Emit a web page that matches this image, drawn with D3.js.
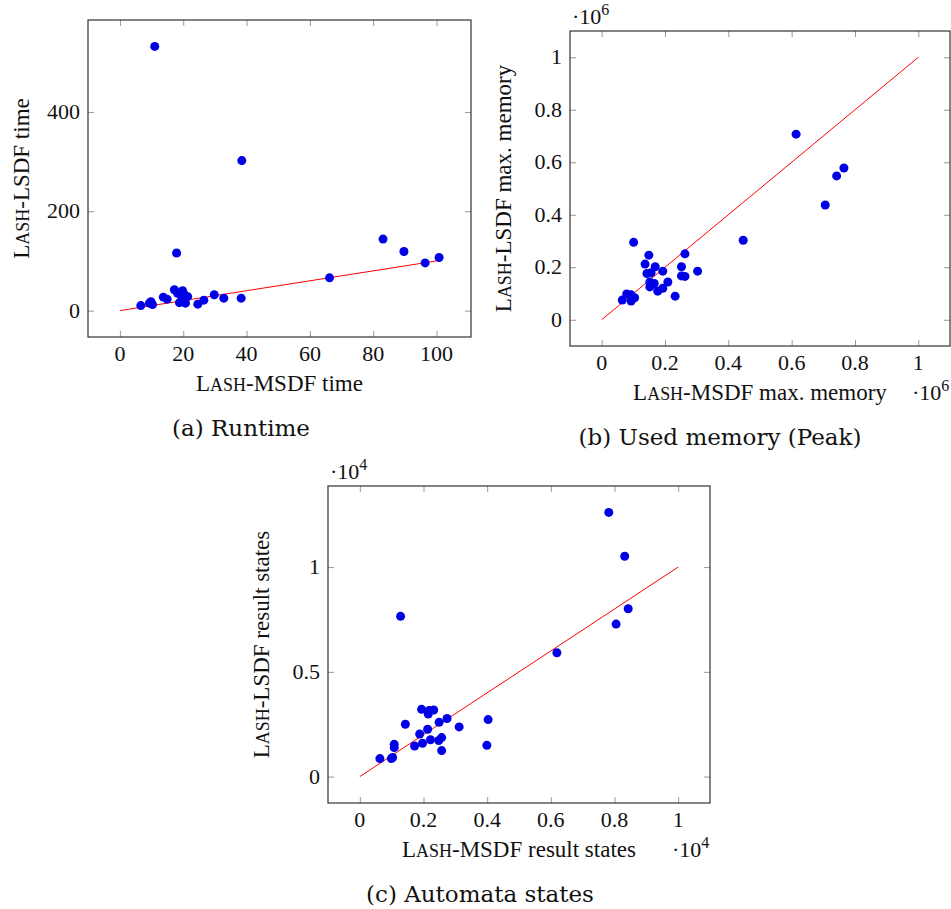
<!DOCTYPE html>
<html>
<head>
<meta charset="utf-8">
<script src="https://cdn.jsdelivr.net/npm/d3@7"></script>
<style>
  body { margin: 0; background: #fff; }
  svg { display: block; }
</style>
</head>
<body>
<div id="chart"></div>
<script>
// (a) runtime: [LASH-MSDF time, LASH-LSDF time]
var runtimePoints = [
    [11.0, 532], [38.5, 302], [17.9, 116], [83.1, 144], [89.7, 119], [96.4, 96],
    [100.8, 107], [66.2, 66], [38.3, 25], [32.8, 25], [29.8, 32], [26.5, 21],
    [24.6, 13], [21.4, 28], [20.7, 15], [19.8, 40], [17.2, 42], [18.2, 35],
    [18.8, 16], [19.6, 27], [20.0, 23], [20.3, 33], [14.9, 23], [13.7, 27],
    [9.8, 18], [10.3, 12], [9.3, 15], [6.6, 10]
];
// (b) peak memory: [LASH-MSDF, LASH-LSDF]
var memoryPoints = [
    [614000, 707000], [706000, 437000], [742000, 548000], [765000, 578000],
    [447000, 303000], [101000, 295000], [149000, 246000], [263000, 251000],
    [137000, 212000], [169000, 202000], [252000, 202000], [303000, 185000],
    [193000, 185000], [143000, 176000], [156000, 179000], [252000, 167000],
    [263000, 165000], [152000, 144000], [166000, 138000], [209000, 144000],
    [152000, 125000], [193000, 120000], [177000, 109000], [232000, 90000],
    [79000, 98000], [93000, 95000], [104000, 84000], [93000, 71000], [65000, 75000]
];
// (c) automata states: [LASH-MSDF, LASH-LSDF]
var statePoints = [
    [7820, 12610], [8320, 10520], [1280, 7650], [8430, 8010], [8050, 7280],
    [6190, 5910], [1940, 3210], [2180, 3160], [2320, 3180], [2150, 2990],
    [2740, 2770], [4030, 2720], [2490, 2590], [3120, 2370], [1430, 2500],
    [2130, 2260], [1880, 2030], [2220, 1760], [2570, 1860], [2480, 1720],
    [1970, 1590], [1720, 1460], [3990, 1490], [2570, 1240], [1080, 1540],
    [1080, 1380], [1030, 910], [990, 860], [630, 860]
];
var runtimeTicks = [0, 20, 40, 60, 80, 100];
var runtimeYTicks = [0, 200, 400];
var memoryTicks = [0, 200000, 400000, 600000, 800000, 1000000];
var stateXTicks = [0, 2000, 4000, 6000, 8000, 10000];
var stateYTicks = [0, 5000, 10000];

var W = 951, H = 909;
var svg = d3.select("#chart").append("svg")
    .attr("width", W)
    .attr("height", H);

var serif = "'Liberation Serif', 'DejaVu Serif', serif";

// writes "Lash" in small caps followed by the rest
function lashText(sel, rest, size) {
    sel.append("tspan").text("L");
    sel.append("tspan").style("font-size", (size * 0.78) + "px").text("ASH");
    sel.append("tspan").text(rest);
}

function expLabel(g, x, y, p) {
    var t = g.append("text")
        .attr("x", x).attr("y", y)
        .style("font-family", serif)
        .style("font-size", "22px")
        .attr("fill", "#111");
    t.append("tspan").text("\u00b710");
    t.append("tspan").attr("dy", -9).style("font-size", "16px").text(p);
}

// enlarge the data range by 10% on each side, like pgfplots does
function padded(lo, hi) {
    var d = (hi - lo) * 0.1;
    return [lo - d, hi + d];
}

function drawPanel(p) {
    var g = svg.append("g").attr("transform", "translate(" + p.left + "," + p.top + ")");
    var w = p.width, h = p.height;

    var xs = p.points.map(function (d) { return d[0]; }).concat([0, p.lineEnd]);
    var ys = p.points.map(function (d) { return d[1]; }).concat([0, p.lineEnd]);
    var x = d3.scaleLinear().domain(padded(d3.min(xs), d3.max(xs))).range([0, w]);
    var y = d3.scaleLinear().domain(padded(d3.min(ys), d3.max(ys))).range([h, 0]);

    // inner ticks on all four sides
    var tickStyle = function (a) {
        a.select(".domain").remove();
        a.selectAll(".tick line").attr("stroke", "#999").attr("stroke-width", 1);
    };
    g.append("g").attr("transform", "translate(0," + h + ")")
        .call(d3.axisBottom(x).tickValues(p.xTicks).tickSize(-6).tickFormat(""))
        .call(tickStyle);
    g.append("g")
        .call(d3.axisTop(x).tickValues(p.xTicks).tickSize(-6).tickFormat(""))
        .call(tickStyle);
    g.append("g")
        .call(d3.axisLeft(y).tickValues(p.yTicks).tickSize(-6).tickFormat(""))
        .call(tickStyle);
    g.append("g").attr("transform", "translate(" + w + ",0)")
        .call(d3.axisRight(y).tickValues(p.yTicks).tickSize(-6).tickFormat(""))
        .call(tickStyle);

    // tick labels
    g.selectAll(".xl").data(p.xTicks).enter().append("text")
        .attr("x", function (d) { return x(d); })
        .attr("y", h + 24)
        .attr("text-anchor", "middle")
        .style("font-family", serif)
        .style("font-size", "22px")
        .attr("fill", "#111")
        .text(p.xFormat);
    g.selectAll(".yl").data(p.yTicks).enter().append("text")
        .attr("x", -8)
        .attr("y", function (d) { return y(d) + 7; })
        .attr("text-anchor", "end")
        .style("font-family", serif)
        .style("font-size", "22px")
        .attr("fill", "#111")
        .text(p.yFormat);

    // diagonal reference line
    g.append("line")
        .attr("x1", x(0)).attr("y1", y(0))
        .attr("x2", x(p.lineEnd)).attr("y2", y(p.lineEnd))
        .attr("stroke", "red")
        .attr("stroke-width", 1);

    g.selectAll("circle").data(p.points).enter().append("circle")
        .attr("cx", function (d) { return x(d[0]); })
        .attr("cy", function (d) { return y(d[1]); })
        .attr("r", 4.5)
        .attr("fill", "#0000e6");

    g.append("rect")
        .attr("width", w).attr("height", h)
        .attr("fill", "none")
        .attr("stroke", "#333")
        .attr("stroke-width", 1.2);

    // axis labels
    var xl = g.append("text")
        .attr("x", w / 2).attr("y", h + 54)
        .attr("text-anchor", "middle")
        .style("font-family", serif)
        .style("font-size", "23px")
        .attr("fill", "#111");
    lashText(xl, "-MSDF " + p.xLabel, 23);

    var yl = g.append("text")
        .attr("transform", "translate(" + (-59) + "," + (h / 2) + ") rotate(-90)")
        .attr("text-anchor", "middle")
        .style("font-family", serif)
        .style("font-size", "23px")
        .attr("fill", "#111");
    lashText(yl, "-LSDF " + p.yLabel, 23);

    if (p.exp) {
        expLabel(g, 2, -7, p.exp);
        expLabel(g, w - 38, h + 54, p.exp);
    }

    svg.append("text")
        .attr("x", p.captionX).attr("y", p.top + h + 99)
        .attr("text-anchor", "middle")
        .style("font-family", "'DejaVu Serif', serif")
        .style("font-size", "23px")
        .attr("fill", "#111")
        .text(p.caption);
}

var fmt = d3.format("~g");

drawPanel({
    left: 88, top: 20, width: 383, height: 317,
    points: runtimePoints, lineEnd: 100,
    xTicks: runtimeTicks, yTicks: runtimeYTicks,
    xFormat: function (d) { return d; }, yFormat: function (d) { return d; },
    xLabel: "time", yLabel: "time",
    caption: "(a) Runtime", captionX: 241
});

drawPanel({
    left: 570, top: 31, width: 380, height: 315,
    points: memoryPoints, lineEnd: 1000000,
    xTicks: memoryTicks, yTicks: memoryTicks,
    xFormat: function (d) { return fmt(d / 1e6); }, yFormat: function (d) { return fmt(d / 1e6); },
    xLabel: "max. memory", yLabel: "max. memory", exp: "6",
    caption: "(b) Used memory (Peak)", captionX: 720
});

drawPanel({
    left: 328, top: 486, width: 382, height: 317,
    points: statePoints, lineEnd: 10000,
    xTicks: stateXTicks, yTicks: stateYTicks,
    xFormat: function (d) { return fmt(d / 1e4); }, yFormat: function (d) { return fmt(d / 1e4); },
    xLabel: "result states", yLabel: "result states", exp: "4",
    caption: "(c) Automata states", captionX: 480
});
</script>
</body>
</html>
